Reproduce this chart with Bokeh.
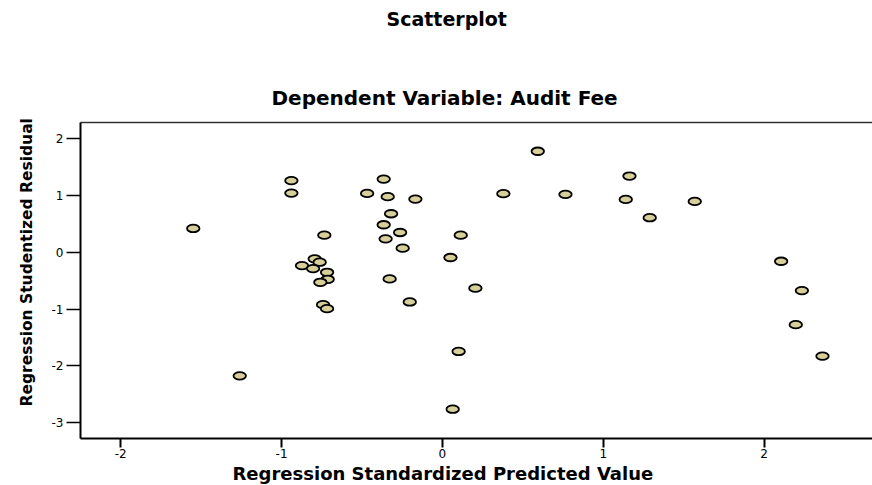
from bokeh.plotting import figure
from bokeh.models import ColumnDataSource, Range1d, FixedTicker, LinearAxis, Title
from bokeh.embed import file_html
from bokeh.resources import INLINE

# Regression Standardized Predicted Value
pred = [-1.549, -1.260, -0.939, -0.939, -0.734, -0.794, -0.763, -0.873, -0.804, -0.717,
        -0.713, -0.759, -0.742, -0.717, -0.468, -0.365, -0.340, -0.168, -0.319, -0.365,
        -0.263, -0.353, -0.247, 0.114, 0.050, -0.328, 0.205, -0.203, 0.101, 0.064,
        0.593, 0.379, 0.765, 1.163, 1.140, 1.569, 1.289, 2.106, 2.235, 2.197, 2.363]
# Regression Studentized Residual
resid = [0.418, -2.175, 1.26, 1.04, 0.30, -0.117, -0.176, -0.235, -0.288, -0.353,
         -0.476, -0.529, -0.922, -0.993, 1.035, 1.287, 0.977, 0.935, 0.677, 0.483,
         0.347, 0.236, 0.071, 0.30, -0.093, -0.469, -0.632, -0.875, -1.746, -2.762,
         1.776, 1.03, 1.018, 1.34, 0.929, 0.894, 0.607, -0.159, -0.675, -1.275, -1.827]

x_ticks = [-2, -1, 0, 1, 2]
y_ticks = [-3, -2, -1, 0, 1, 2]
x_tick_labels = ["-2", "-1", "0", "1", "2"]
y_tick_labels = ["-3", "-2", "-1", "0", "1", "2"]

FONT = "DejaVu Sans"

src = ColumnDataSource(dict(x=pred, y=resid))

p = figure(width=872, height=485, output_backend="svg", toolbar_location=None,
           title=None,
           x_range=Range1d(-2.25, 2.674), y_range=Range1d(-3.277, 2.282),
           min_border_left=80, min_border_right=0, min_border_top=122, min_border_bottom=47)
p.outline_line_color = None
p.xgrid.visible = False
p.ygrid.visible = False
p.background_fill_color = "white"
p.border_fill_color = "white"

xa = p.xaxis[0]
xa.ticker = FixedTicker(ticks=x_ticks)
xa.major_label_overrides = {float(t): s for t, s in zip(x_ticks, x_tick_labels)}
xa.axis_line_width = 2
xa.axis_line_color = "black"
xa.major_tick_out = 9
xa.major_tick_in = 0
xa.major_tick_line_width = 2
xa.major_tick_line_color = "black"
xa.minor_tick_line_color = None
xa.major_label_text_font = FONT
xa.major_label_text_font_size = "12px"
xa.major_label_text_color = "black"
xa.major_label_standoff = 1

ya = p.yaxis[0]
ya.ticker = FixedTicker(ticks=y_ticks)
ya.major_label_overrides = {float(t): s for t, s in zip(y_ticks, y_tick_labels)}
ya.axis_line_width = 2
ya.axis_line_color = "black"
ya.major_tick_out = 14
ya.major_tick_in = 0
ya.major_tick_line_width = 1.5
ya.major_tick_line_color = "black"
ya.minor_tick_line_color = None
ya.major_label_text_font = FONT
ya.major_label_text_font_size = "12px"
ya.major_label_text_color = "black"
ya.major_label_standoff = 3

top = LinearAxis(ticker=FixedTicker(ticks=[]), axis_line_color="#333333", axis_line_width=1.5,
                 major_tick_line_color=None, minor_tick_line_color=None,
                 major_label_text_font_size="0px")
p.add_layout(top, "above")

p.ellipse(x="x", y="y", width=12.5, height=7.5, width_units="screen", height_units="screen",
          source=src, fill_color="#d6cf9a", line_color="black", line_width=1.8)

# axis titles as Title annotations so they can be shifted like the reference
p.add_layout(Title(text="Regression Standardized Predicted Value", align="left", offset=152,
                   text_font=FONT, text_font_style="bold", text_font_size="18px",
                   text_color="black", standoff=0), "below")
p.add_layout(Title(text="Regression Studentized Residual", align="left", offset=32,
                   text_font=FONT, text_font_style="bold", text_font_size="15.5px",
                   text_color="black", standoff=26), "left")

p.add_layout(Title(text="Dependent Variable: Audit Fee", align="left", offset=191,
                   text_font=FONT, text_font_style="bold", text_font_size="20px",
                   text_color="black", standoff=26), "above")
# blank spacer between subtitle and main title
p.add_layout(Title(text=" ", align="left", text_font=FONT, text_font_size="10px",
                   text_color="white", standoff=27), "above")
p.add_layout(Title(text="Scatterplot", align="left", offset=306,
                   text_font=FONT, text_font_style="bold", text_font_size="19px",
                   text_color="black", standoff=2), "above")

open("out.html", "w").write(file_html(p, INLINE))
